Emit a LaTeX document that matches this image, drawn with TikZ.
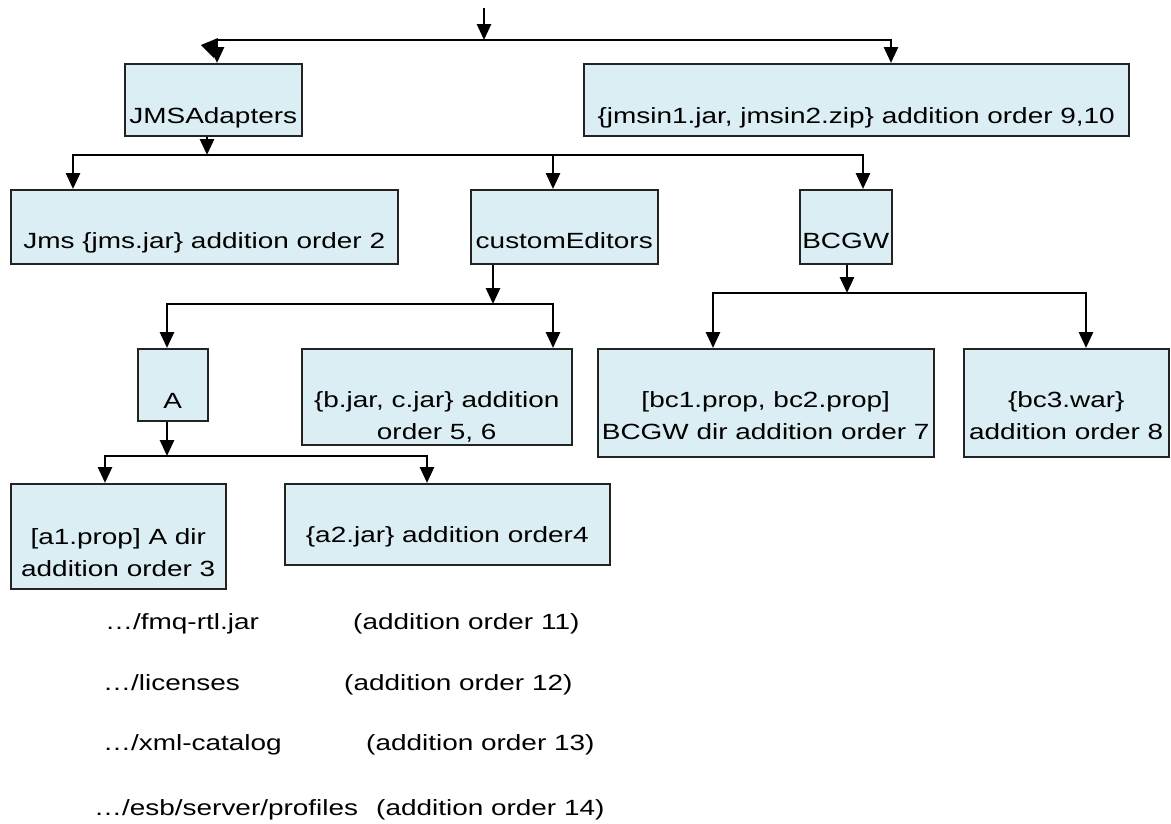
\documentclass[tikz,border=0pt]{standalone}
\usepackage{fontspec}
\setmainfont{Liberation Sans}[FakeStretch=1.27]
\usetikzlibrary{arrows.meta}
\definecolor{boxfill}{RGB}{219,238,244}
\definecolor{boxline}{RGB}{35,35,35}
\newcommand\twoline[2]{\begin{tabular}[b]{@{}c@{}}#1\\#2\end{tabular}}
\begin{document}
\begin{tikzpicture}[x=1pt,y=-1pt,
  box/.style={draw=boxline, line width=1.5pt, fill=boxfill, anchor=north west,
    inner xsep=0pt, inner ysep=0pt, font=\fontsize{22}{32}\selectfont},
  conn/.style={line width=2.8pt, -{Triangle[width=14pt,length=16pt]}},
  lbl/.style={anchor=base west, inner sep=0pt, font=\fontsize{22}{26}\selectfont}]
\useasboundingbox (0,0) rectangle (1171,823);

% boxes
\node[box, minimum width=177pt, text height=60pt, text depth=12pt] (jmsa) at (124,63) {JMSAdapters};
\node[box, minimum width=545pt, text height=60pt, text depth=12pt] (rbox) at (583,63) {\{jmsin1.jar, jmsin2.zip\} addition order 9,10};
\node[box, minimum width=387pt, text height=59pt, text depth=15pt] (jmsb) at (10,189) {Jms \{jms.jar\} addition order 2};
\node[box, minimum width=187pt, text height=59pt, text depth=15pt] (cust) at (470,189) {customEditors};
\node[box, minimum width=92pt, text height=59pt, text depth=15pt] (bcgw) at (799,189) {BCGW};
\node[box, minimum width=70pt, text height=60pt, text depth=12pt] (abox) at (137,348) {A};
\node[box, minimum width=270pt, text height=91pt, text depth=5pt] (bjar) at (301,348) {\twoline{\{b.jar, c.jar\} addition}{order 5, 6}};
\node[box, minimum width=336pt, text height=91pt, text depth=17pt] (bc1) at (597,348) {\twoline{[bc1.prop, bc2.prop]}{BCGW dir addition order 7}};
\node[box, minimum width=205pt, text height=91pt, text depth=17pt] (bc3) at (963,348) {\twoline{\{bc3.war\}}{addition order 8}};
\node[box, minimum width=215pt, text height=93pt, text depth=12pt] (a1) at (10,483) {\twoline{[a1.prop] A dir}{addition order 3}};
\node[box, minimum width=325pt, text height=59pt, text depth=22pt] (a2) at (284,483) {\{a2.jar\} addition order4};

% junctions
\coordinate (top) at (484,8);
\coordinate (j0) at (484,40);
\coordinate (j1) at (207,155);
\coordinate (j2) at (493,304);
\coordinate (j3) at (167,456);
\coordinate (j4) at (847,293);

% connectors
\draw[conn] (top) -- (j0);
\draw[conn] (j0) -| ([xshift=93pt]jmsa.north west);
\draw[conn] (j0) -| ([xshift=308pt]rbox.north west);
\fill (201,45) -- (218,38) -- (214,58) -- cycle;

\draw[conn] ([xshift=83pt]jmsa.south west) -- (j1);
\draw[conn] (j1) -| ([xshift=63pt]jmsb.north west);
\draw[conn] (j1) -| ([xshift=83pt]cust.north west);
\draw[conn] (j1) -| ([xshift=64pt]bcgw.north west);

\draw[conn] ([xshift=23pt]cust.south west) -- (j2);
\draw[conn] (j2) -| ([xshift=30pt]abox.north west);
\draw[conn] (j2) -| ([xshift=252pt]bjar.north west);

\draw[conn] ([xshift=30pt]abox.south west) -- (j3);
\draw[conn] (j3) -| ([xshift=95pt]a1.north west);
\draw[conn] (j3) -| ([xshift=143pt]a2.north west);

\draw[conn] ([xshift=48pt]bcgw.south west) -- (j4);
\draw[conn] (j4) -| ([xshift=116pt]bc1.north west);
\draw[conn] (j4) -| ([xshift=123pt]bc3.north west);

% bottom list
\node[lbl] (p1) at (105,629) {…/fmq-rtl.jar};
\node[lbl] (o1) at (353,629) {(addition order 11)};
\node[lbl] (p2) at (103,690) {…/licenses};
\node[lbl] (o2) at (344,690) {(addition order 12)};
\node[lbl] (p3) at (103,750) {…/xml-catalog};
\node[lbl] (o3) at (366,750) {(addition order 13)};
\node[lbl] (p4) at (94,815) {…/esb/server/profiles};
\node[lbl] (o4) at (376,815) {(addition order 14)};
\end{tikzpicture}
\end{document}
